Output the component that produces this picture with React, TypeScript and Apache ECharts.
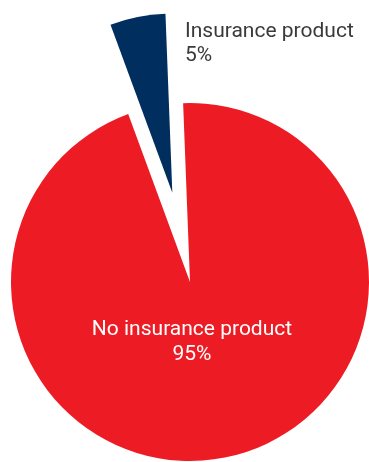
import React, { useEffect, useRef } from "react";
import * as echarts from "echarts";

const categories = ["No insurance product", "Insurance product"];
const values = [95, 5];
const colors = ["#ED1C24", "#002E5E"];

export default function App() {
  const ref = useRef<HTMLDivElement>(null);
  useEffect(() => {
    const chart = echarts.init(ref.current!, null, { renderer: "svg" });
    const total = values.reduce((a, b) => a + b, 0);
    chart.setOption({
      animation: false,
      graphic: [
        {
          type: "text",
          left: 185,
          top: 18,
          style: {
            text: `${categories[1]}\n${Math.round((values[1] / total) * 100)}%`,
            fill: "#3a3a3a",
            font: "21px Roboto",
            lineHeight: 24,
          },
        },
      ],
      series: [
        {
          type: "pie",
          center: [190, 282],
          radius: 179,
          startAngle: 92.2,
          clockwise: true,
          avoidLabelOverlap: false,
          selectedMode: "single",
          selectedOffset: 91,
          emphasis: { disabled: true },
          labelLine: { show: false },
          label: {
            show: true,
            position: "inside",
            formatter: "{b}\n{d}%",
            fontFamily: "Roboto",
            fontSize: 21,
            lineHeight: 25,
          },
          labelLayout: (p: any) => {
            if (p.dataIndex === 1) return {};
            return { x: 192, y: 340, align: "center", verticalAlign: "middle" };
          },
          data: categories.map((name, i) => ({
            name,
            value: values[i],
            selected: i === 1,
            itemStyle: { color: colors[i] },
            label: { show: i === 0, color: "#ffffff" },
          })),
        },
      ],
    });
    return () => chart.dispose();
  }, []);
  return (
    <div
      ref={ref}
      style={{ position: "fixed", left: 0, top: 0, width: 369, height: 462 }}
    />
  );
}
